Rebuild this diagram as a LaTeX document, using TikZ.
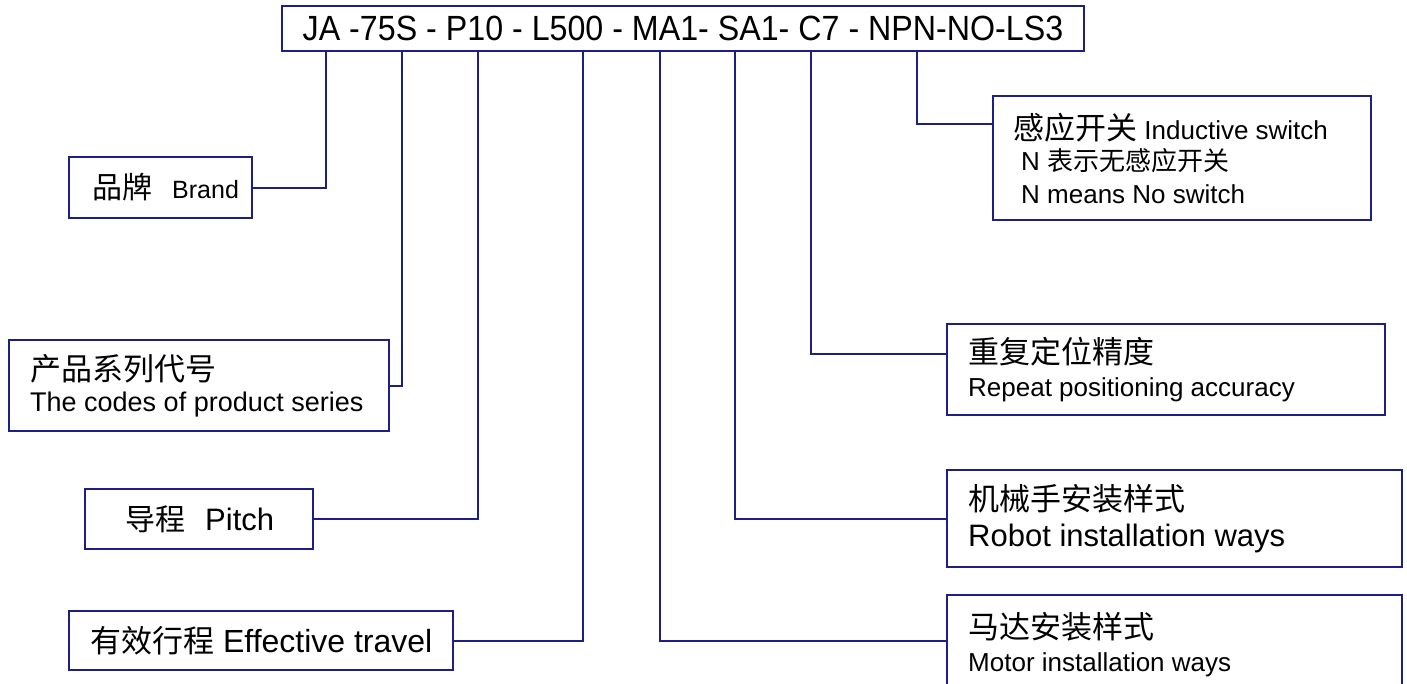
\documentclass[tikz,border=0pt]{standalone}
\usepackage{fontspec}
\setmainfont{Liberation Sans}
\newfontfamily\zh{Noto Sans CJK SC}
\newfontfamily\codefont{Liberation Sans}[FakeStretch=0.92]
\usepackage{xcolor}
\definecolor{linecolor}{HTML}{1E1E88}
\usepackage{tikz}
\usetikzlibrary{positioning}
\tikzset{
    link/.style={ draw=linecolor, line width=2pt },
    % Boxes round the labels
    tagbox/.style={ rectangle, draw=linecolor, line width=2pt, anchor=north west, inner sep=0 },
    tagtext/.style={ inner sep=0, align=left, text=black },
}

\begin{document}
\begin{tikzpicture}[x=1pt, y=-1pt]
    \useasboundingbox (0,0) rectangle (1407,683);
    % Model code
    \node[tagbox, minimum width=802, minimum height=45, font=\codefont\fontsize{35}{40}\selectfont] (code) at (281,5) {JA -75S - P10 - L500 - MA1- SA1- C7 - NPN-NO-LS3};

    % Left column
    \node[tagbox, minimum width=183, minimum height=61] (brand) at (68,156) {};
    \node[tagtext, right=24pt of brand.west, font=\fontsize{25}{30}\selectfont] (brand-txt) {{\zh\fontsize{30}{30}\selectfont 品牌}\hspace{20pt}Brand};
    \node[tagbox, minimum width=380, minimum height=91] (series) at (8,339) {};
    \node[tagtext, right=22pt of series.west, font=\fontsize{27}{27}\selectfont] (series-txt) {{\zh\fontsize{31}{31}\selectfont 产品系列代号}\\[4pt]The codes of product series};
    \node[tagbox, minimum width=228, minimum height=60] (pitch) at (84,488) {};
    \node[tagtext, right=41pt of pitch.west, font=\fontsize{31}{31}\selectfont] (pitch-txt) {{\zh\fontsize{30}{30}\selectfont 导程}\hspace{20pt}Pitch};
    \node[tagbox, minimum width=384, minimum height=59] (travel) at (68,610) {};
    \node[tagtext, right=22pt of travel.west, font=\fontsize{32}{32}\selectfont] (travel-txt) {{\zh\fontsize{31}{31}\selectfont 有效行程} Effective travel};

    % Right column
    \node[tagbox, minimum width=378, minimum height=124] (switch) at (992,95) {};
    \node[tagtext, right=21pt of switch.west, font=\fontsize{26}{26}\selectfont] (switch-txt) {{\zh\fontsize{31}{31}\selectfont 感应开关} Inductive switch\\[5pt] \hspace*{8pt}N {\zh 表示无感应开关}\\[7pt] \hspace*{8pt}N means No switch};
    \node[tagbox, minimum width=438, minimum height=91] (repeat) at (946,323) {};
    \node[tagtext, right=22pt of repeat.west, font=\fontsize{26}{27}\selectfont] (repeat-txt) {{\zh\fontsize{31}{31}\selectfont 重复定位精度}\\[6pt]Repeat positioning accuracy};
    \node[tagbox, minimum width=455, minimum height=97] (robot) at (946,469) {};
    \node[tagtext, right=22pt of robot.west, font=\fontsize{31}{30}\selectfont] (robot-txt) {{\zh 机械手安装样式}\\[6pt]Robot installation ways};
    \node[tagbox, minimum width=455, minimum height=130] (motor) at (946,594) {};
    \node[tagtext, below right=18pt and 22pt of motor.north west, font=\fontsize{26}{30}\selectfont] (motor-txt) {{\zh\fontsize{31}{31}\selectfont 马达安装样式}\\[3pt]Motor installation ways};

    % Leader lines
    \draw[link] (326,0 |- code.south) |- (brand);
    \draw[link] (402,0 |- code.south) |- (series);
    \draw[link] (478,0 |- code.south) |- (pitch);
    \draw[link] (583,0 |- code.south) |- (travel);
    \draw[link] (660,0 |- code.south) |- ([yshift=19pt]motor.west);
    \draw[link] (735,0 |- code.south) |- (robot);
    \draw[link] (811,0 |- code.south) |- ([yshift=16pt]repeat.west);
    \draw[link] (917,0 |- code.south) |- ([yshift=34pt]switch.west);
\end{tikzpicture}
\end{document}
